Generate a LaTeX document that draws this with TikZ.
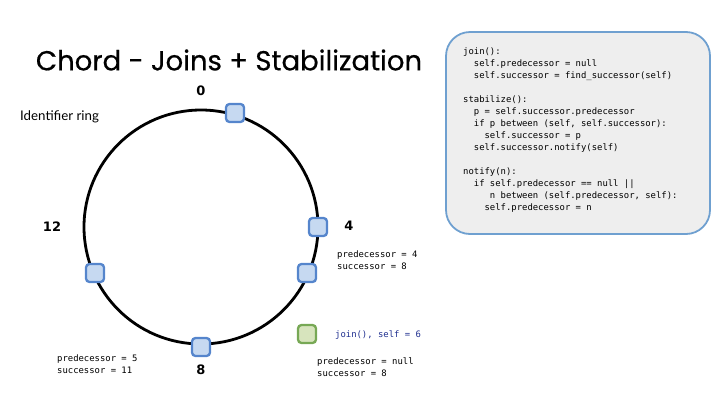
\documentclass[tikz,border=0pt]{standalone}
\usepackage{fontspec}
\setmainfont{Liberation Sans}
\newfontfamily\titlefont[FakeBold=0.5]{Poppins}
\newfontfamily\labfont{Lato}
\newfontfamily\codefont{DejaVu Sans Mono}
\newfontfamily\numfont{DejaVu Sans}
\definecolor{nodefill}{HTML}{C6D9F1}
\definecolor{nodeedge}{HTML}{5585CC}
\definecolor{greenfill}{HTML}{D7E4BD}
\definecolor{greenedge}{HTML}{77A855}
\definecolor{boxfill}{HTML}{EEEEEE}
\definecolor{boxedge}{HTML}{6FA0D0}
\definecolor{navy}{HTML}{1F2F8F}
\tikzset{
  ringnode/.style={draw=nodeedge, fill=nodefill, line width=2.3pt, rounded corners=3.5pt, minimum size=18pt, inner sep=0pt},
  newnode/.style={ringnode, draw=greenedge, fill=greenfill},
  codetxt/.style={font=\codefont\fontsize{8.9}{12}\selectfont, anchor=west, inner sep=0pt, align=left},
  numlbl/.style={font=\numfont\bfseries\fontsize{13}{14}\selectfont, inner sep=0pt},
}
\begin{document}
\begin{tikzpicture}[x=1pt,y=-1pt]
\useasboundingbox (0,0) rectangle (720,405);
% title
\node[font=\titlefont\fontsize{27.5}{30}\selectfont, inner sep=0pt] (title) at (229,60) {Chord - Joins + Stabilization};
\node[font=\labfont\fontsize{13.3}{15}\selectfont, anchor=west, inner sep=0pt] (ring) at (20,117) {Identifier ring};
% ring
\coordinate (c) at (201,227);
\draw[line width=2.8pt] (c) circle[radius=117];
\node[ringnode] (n0) at (235,113) {};
\node[ringnode] (n4) at (318,227) {};
\node[ringnode] (n5) at (307,273) {};
\node[ringnode] (n11) at (95,273) {};
\node[ringnode] (n8) at (201,347) {};
\node[newnode] (n6) at (307,334) {};
% number labels
\node[numlbl] (l0) at (201,91) {0};
\node[numlbl] (l4) at (349,226) {4};
\node[numlbl] (l12) at (52,227) {12};
\node[numlbl] (l8) at (201,370) {8};
% state texts
\node[codetxt] (s5) at (337,260) {predecessor = 4\\successor = 8};
\node[codetxt] (s8) at (57,364) {predecessor = 5\\successor = 11};
\node[codetxt, text=navy] (j6) at (335,335) {join(), self = 6};
\node[codetxt] (s6) at (317,367) {predecessor = null\\successor = 8};
% code box
\draw[draw=boxedge, fill=boxfill, line width=1.8pt, rounded corners=24pt] (446,32) rectangle (710,234);
\node[codetxt, anchor=north west] (code) at (463,48) {%
join():\\
\ \ self.predecessor = null\\
\ \ self.successor = find\_successor(self)\\[12pt]
stabilize():\\
\ \ p = self.successor.predecessor\\
\ \ if p between (self, self.successor):\\
\ \ \ \ self.successor = p\\
\ \ self.successor.notify(self)\\[12pt]
notify(n):\\
\ \ if self.predecessor == null ||\\
\ \ \ \ \ n between (self.predecessor, self):\\
\ \ \ \ self.predecessor = n};
\end{tikzpicture}
\end{document}
